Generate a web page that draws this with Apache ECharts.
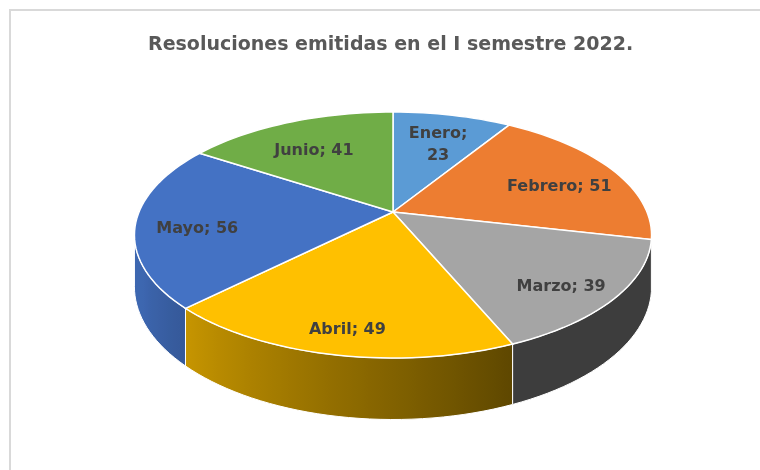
<!DOCTYPE html>
<html>
<head>
<meta charset="utf-8">
<script src="https://cdn.jsdelivr.net/npm/echarts@6/dist/echarts.min.js"></script>
<style>
  html, body { margin: 0; padding: 0; background: #fff; }
  #container { width: 760px; height: 470px; }
</style>
</head>
<body>
<div id="container"></div>
<script>
var months = ['Enero', 'Febrero', 'Marzo', 'Abril', 'Mayo', 'Junio'];
var counts = [23, 51, 39, 49, 56, 41];
var colors = ['#5b9bd5', '#ed7d31', '#a5a5a5', '#ffc000', '#4472c4', '#70ad47'];

var dom = document.getElementById('container');
var myChart = echarts.init(dom, null, { renderer: 'canvas' });

var total = counts.reduce(function (a, b) { return a + b; }, 0);
var starts = [];
var acc = 0;
counts.forEach(function (v) { starts.push(acc / total * 360); acc += v; });

// projection of the tilted pie (angle clockwise from 12 o'clock)
var CX = 393, CY = 212, RX = 254, RY = 118.7, K = 0.187, DEPTH = 50;
function proj(deg, h, f) {
  f = f == null ? 1 : f;
  var t = deg * Math.PI / 180;
  var u = Math.sin(t), v = Math.cos(t);
  var s = 1 / (1 + K * v);
  return [CX + RX * u * s * f, CY - RY * v * s * f + h * DEPTH * s];
}
// wall visible between the two silhouette angles
var VIS0 = Math.acos(-K) * 180 / Math.PI;
var VIS1 = 360 - VIS0;

function shade(hex, b) {
  var r = echarts.color.parse(hex);
  return 'rgb(' + Math.round(r[0] * b) + ',' + Math.round(r[1] * b) + ',' + Math.round(r[2] * b) + ')';
}
function lightAt(deg) {
  return Math.max(0.37, Math.min(0.9, 0.37 + (deg - 157) * 0.006));
}

function renderItem(params, api) {
  var i = params.dataIndex;
  var a0 = starts[i];
  var a1 = a0 + api.value(0) / total * 360;
  var children = [];

  // side wall
  var w0 = Math.max(a0, VIS0), w1 = Math.min(a1, VIS1);
  if (w1 > w0) {
    var topPts = [], botPts = [], xs = [];
    var n = Math.max(4, Math.ceil((w1 - w0) / 2));
    for (var k = 0; k <= n; k++) {
      var d = w0 + (w1 - w0) * k / n;
      var p = proj(d, 0);
      topPts.push(p);
      botPts.push(proj(d, 1));
      xs.push([p[0], d]);
    }
    var xmin = Math.min.apply(null, xs.map(function (e) { return e[0]; }));
    var xmax = Math.max.apply(null, xs.map(function (e) { return e[0]; }));
    var stops = xs.map(function (e) {
      return { offset: (e[0] - xmin) / Math.max(1, xmax - xmin), color: shade(colors[i], lightAt(e[1])) };
    }).sort(function (a, b) { return a.offset - b.offset; });
    children.push({
      type: 'polygon',
      z2: 1,
      shape: { points: topPts.concat(botPts.reverse()) },
      style: {
        fill: { type: 'linear', x: 0, y: 0, x2: 1, y2: 0, colorStops: stops },
        stroke: '#ffffff',
        lineWidth: 1
      }
    });
  }

  // top face
  var pts = [proj(0, 0, 0)];
  var m = Math.max(6, Math.ceil((a1 - a0) / 2));
  for (var j = 0; j <= m; j++) pts.push(proj(a0 + (a1 - a0) * j / m, 0));
  children.push({
    type: 'polygon',
    z2: 10,
    shape: { points: pts },
    style: { fill: colors[i], stroke: '#ffffff', lineWidth: 1.5 }
  });

  // label
  var share = api.value(0) / total;
  var lp = proj((a0 + a1) / 2, 0.15, 0.76);
  children.push({
    type: 'text',
    z2: 20,
    x: lp[0],
    y: lp[1],
    style: {
      text: months[i] + ';' + (share < 0.1 ? '\n' : ' ') + api.value(0),
      fill: '#404040',
      fontSize: 16,
      fontWeight: 'bold',
      fontFamily: 'DejaVu Sans',
      lineHeight: 22,
      align: 'center',
      verticalAlign: 'middle'
    }
  });

  return { type: 'group', children: children };
}

var option = {
  animation: false,
  title: {
    text: 'Resoluciones emitidas en el I semestre 2022.',
    left: 143,
    top: 31,
    textStyle: { fontSize: 19, fontWeight: 'bold', color: '#595959', fontFamily: 'DejaVu Sans' }
  },
  graphic: [{
    type: 'rect',
    shape: { x: 10, y: 10, width: 800, height: 500 },
    style: { fill: 'none', stroke: '#d9d9d9', lineWidth: 2 },
    silent: true
  }],
  series: [{
    type: 'custom',
    coordinateSystem: 'none',
    renderItem: renderItem,
    data: counts
  }]
};

myChart.setOption(option);
window.addEventListener('resize', myChart.resize);
</script>
</body>
</html>
